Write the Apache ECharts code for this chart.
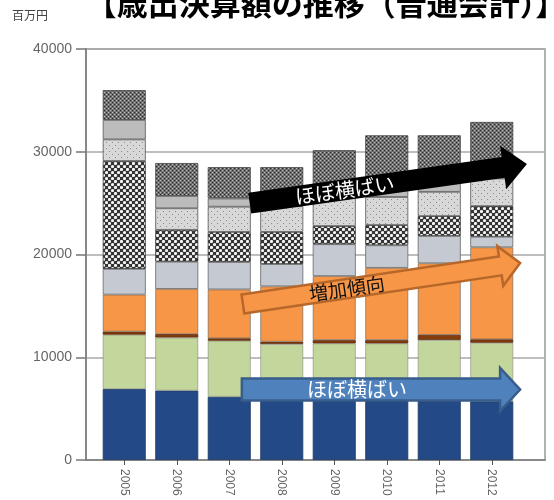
<!DOCTYPE html>
<html><head><meta charset="utf-8">
<script src="https://cdn.jsdelivr.net/npm/echarts@6/dist/echarts.min.js"></script>
<style>html,body{margin:0;padding:0;background:#fff}#c{width:554px;height:500px}</style>
</head><body><div id="c"></div>
<script>
// ---- data (百万円) ----
const years = ['2005','2006','2007','2008','2009','2010','2011','2012'];
const yMin = 0, yMax = 40000, yStep = 10000;
const s1_blue   = [6900, 6750, 6150, 5850, 5850, 5850, 5800, 5700];
const s2_green  = [5300, 5170, 5460, 5440, 5500, 5500, 5880, 5710];
const s3_brown  = [300, 330, 230, 230, 330, 330, 500, 330];
const s4_orange = [3600, 4400, 4760, 5380, 6220, 7020, 6970, 8960];
const s5_lgray  = [2500, 2650, 2670, 2170, 3100, 2200, 2650, 1030];
const s6_check  = [10500, 3100, 2930, 3130, 1770, 1970, 1940, 2980];
const s7_ldot   = [2100, 2100, 2450, 2500, 2830, 2730, 2360, 2690];
const s8_mgray  = [1900, 1200, 800, 1000, 1200, 1200, 1150, 1300];
const s9_ddot   = [2900, 3200, 3050, 2800, 3350, 4800, 4350, 4200];
const titleText = '【歳出決算額の推移（普通会計）】';
const unitText = '百万円';
// annotation arrows: [category position, value]
const arrowBlack  = {from:[2.39, 25000], to:[7.67, 28800], label:'ほぼ横ばい', t:0.343};
const arrowOrange = {from:[2.26, 15180], to:[7.54, 19170], label:'増加傾向', t:0.375};
const arrowBlue   = {from:[2.24, 6860],  to:[7.54, 6860],  label:'ほぼ横ばい', t:0.414};

function tile(w,h,draw){const c=document.createElement('canvas');c.width=w;c.height=h;const g=c.getContext('2d');draw(g);return c;}
const patCheck = tile(6,6,g=>{g.fillStyle='#333';g.fillRect(0,0,6,6);g.fillStyle='#f4f4f4';
  [[1.5,1.5],[4.5,4.5]].forEach(p=>{g.beginPath();g.arc(p[0],p[1],1.6,0,Math.PI*2);g.fill();});});
const patLdot = tile(6,6,g=>{g.fillStyle='#d8d8d8';g.fillRect(0,0,6,6);g.fillStyle='#8c8c8c';g.fillRect(1,1,1,1);g.fillRect(4,4,1,1);});
const patDdot = tile(4,4,g=>{g.fillStyle='#6a6a6a';g.fillRect(0,0,4,4);g.fillStyle='#bdbdbd';g.fillRect(0,0,1.2,1.2);g.fillRect(2,2,1.2,1.2);g.fillStyle='#2a2a2a';g.fillRect(2,0,1,1);g.fillRect(0,2,1,1);});

const chart = echarts.init(document.getElementById('c'), null, {renderer:'canvas'});
function bar(name, data, color, border){
  return {name, type:'bar', stack:'t', xAxisIndex:1, yAxisIndex:1, barWidth:43, data,
    itemStyle:{color, borderColor:border||'#555', borderWidth:0.8}, emphasis:{disabled:true}};
}
const axisFont = 'Liberation Sans';
chart.setOption({
  animation:false,
  backgroundColor:'#fff',
  grid:[
    {left:86, top:49, width:459, height:411, show:true, borderColor:'#999', borderWidth:1.5, backgroundColor:'transparent'},
    {left:98, top:49, width:420, height:411}
  ],
  xAxis:[
    {type:'value', gridIndex:0, min:0, max:1, axisLine:{show:true, lineStyle:{color:'#888', width:2}},
     axisTick:{show:false}, axisLabel:{show:false}, splitLine:{show:false}},
    {type:'category', gridIndex:1, data:years, axisLine:{show:false},
     axisTick:{show:true, alignWithLabel:true, length:5, lineStyle:{color:'#555'}},
     axisLabel:{rotate:-90, margin:9, fontSize:12, fontFamily:axisFont, color:'#666'}}
  ],
  yAxis:[
    {type:'value', gridIndex:0, min:yMin, max:yMax, interval:yStep,
     axisLine:{show:true, lineStyle:{color:'#888', width:2}},
     axisTick:{show:true, inside:false, length:10, lineStyle:{color:'#777', width:1.5}},
     axisLabel:{margin:14, fontSize:14, fontFamily:axisFont, color:'#666', formatter:v=>String(v)},
     splitLine:{show:true, lineStyle:{color:'#a8a8a8', width:1.5}}},
    {type:'value', gridIndex:1, min:yMin, max:yMax, show:false, splitLine:{show:false}}
  ],
  series:[
    bar('s1', s1_blue, '#234a87', '#1b3a66'),
    bar('s2', s2_green, '#c3d69b', 'rgba(110,110,110,0.6)'),
    bar('s3', s3_brown, '#843c0c', '#5a2a0a'),
    bar('s4', s4_orange, '#f79646', 'rgba(90,90,90,0.7)'),
    bar('s5', s5_lgray, '#c5cad2', '#666'),
    bar('s6', s6_check, {image:patCheck, repeat:'repeat'}, '#333'),
    bar('s7', s7_ldot, {image:patLdot, repeat:'repeat'}, '#555'),
    bar('s8', s8_mgray, '#bcbcbc', '#555'),
    bar('s9', s9_ddot, {image:patDdot, repeat:'repeat'}, '#444')
  ]
});

const c0 = chart.convertToPixel({xAxisIndex:1}, years[0]);
const c1 = chart.convertToPixel({xAxisIndex:1}, years[1]);
const px = f => c0 + (c1-c0)*f;
const py = v => chart.convertToPixel({yAxisIndex:1}, v);

function arrowEls(a, fill, stroke, lw, w, h, L, txtColor, fs){
  const S=[px(a.from[0]), py(a.from[1])], T=[px(a.to[0]), py(a.to[1])];
  const dx=T[0]-S[0], dy=T[1]-S[1], len=Math.hypot(dx,dy);
  const d=[dx/len, dy/len], n=[-d[1], d[0]];
  const B=[T[0]-d[0]*L, T[1]-d[1]*L];
  const P=(p,k)=>[p[0]+n[0]*k, p[1]+n[1]*k];
  const pts=[P(S,w/2),P(B,w/2),P(B,h/2),T,P(B,-h/2),P(B,-w/2),P(S,-w/2)];
  const C=[S[0]+dx*a.t, S[1]+dy*a.t];
  return [
    {type:'polygon', z:100, shape:{points:pts}, style:{fill, stroke:stroke||null, lineWidth:lw||0}},
    {type:'text', z:101, x:C[0], y:C[1], rotation:-Math.atan2(dy,dx),
     style:{text:a.label, fill:txtColor, font:'normal '+fs+'px "Noto Sans CJK JP"', textAlign:'center', textVerticalAlign:'middle'}}
  ];
}
chart.setOption({graphic:[
  {type:'text', z:100, x:326, y:3, style:{text:titleText, fill:'#000', font:'bold 31px "Noto Sans CJK JP"', textAlign:'center', textVerticalAlign:'middle'}},
  {type:'text', z:100, x:12, y:15, style:{text:unitText, fill:'#444', font:'12px "Noto Sans CJK JP"', textAlign:'left', textVerticalAlign:'middle'}},
  ...arrowEls(arrowBlack, '#000', null, 0, 21, 44, 24, '#fff', 20),
  ...arrowEls(arrowOrange, '#f79646', '#b8672b', 2.5, 19, 40, 20, '#111', 19),
  ...arrowEls(arrowBlue, '#4f81bd', '#385d8a', 2.5, 22, 43, 20, '#fff', 20)
]});
</script>
</body></html>
